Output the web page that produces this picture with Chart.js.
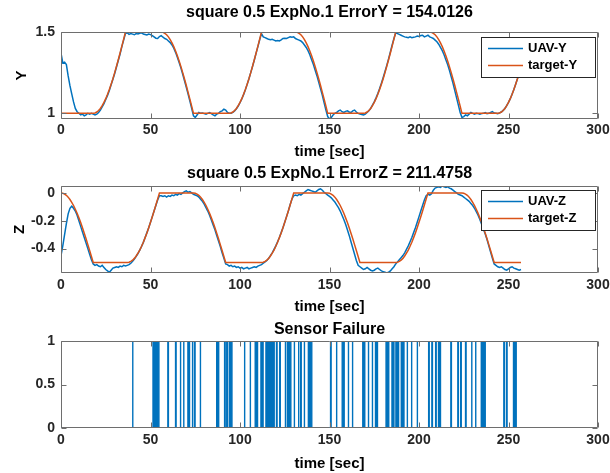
<!DOCTYPE html>
<html><head><meta charset="utf-8">
<script src="https://cdn.jsdelivr.net/npm/chart.js@4/dist/chart.umd.min.js"></script>
<style>
html,body{margin:0;padding:0;background:#fff;overflow:hidden;width:610px;height:473px}
.pane{position:absolute;left:0;width:610px}
</style></head><body>
<div class="pane" style="top:0;height:161px"><canvas id="c1" width="610" height="161"></canvas></div>
<div class="pane" style="top:161px;height:155px"><canvas id="c2" width="610" height="155"></canvas></div>
<div class="pane" style="top:316px;height:157px"><canvas id="c3" width="610" height="157"></canvas></div>
<script>
// ---------- data ----------
const time = [0,1,2,3,4,5,6,7,8,9,10,11,12,13,14,15,16,17,18,19,20,21,22,23,24,25,26,27,28,29,30,31,32,33,34,35,36,37,38,39,40,41,42,43,44,45,46,47,48,49,50,51,52,53,54,55,56,57,58,59,60,61,62,63,64,65,66,67,68,69,70,71,72,73,74,75,76,77,78,79,80,81,82,83,84,85,86,87,88,89,90,91,92,93,94,95,96,97,98,99,100,101,102,103,104,105,106,107,108,109,110,111,112,113,114,115,116,117,118,119,120,121,122,123,124,125,126,127,128,129,130,131,132,133,134,135,136,137,138,139,140,141,142,143,144,145,146,147,148,149,150,151,152,153,154,155,156,157,158,159,160,161,162,163,164,165,166,167,168,169,170,171,172,173,174,175,176,177,178,179,180,181,182,183,184,185,186,187,188,189,190,191,192,193,194,195,196,197,198,199,200,201,202,203,204,205,206,207,208,209,210,211,212,213,214,215,216,217,218,219,220,221,222,223,224,225,226,227,228,229,230,231,232,233,234,235,236,237,238,239,240,241,242,243,244,245,246,247,248,249,250,251,252,253,254,255,256,257];

const uavY = [1.37,1.31,1.315,1.30,1.23,1.17,1.12,1.07,1.03,1.01,
1.0,0.99,0.995,0.985,0.99,1.0,0.995,1.0,0.995,0.99,
0.995,1.005,1.02,1.04,1.06,1.085,1.11,1.14,1.175,1.21,
1.245,1.285,1.325,1.365,1.41,1.45,1.49,1.495,1.485,1.49,
1.487,1.483,1.49,1.488,1.492,1.495,1.488,1.485,1.482,1.487,
1.484,1.478,1.47,1.462,1.46,1.472,1.478,1.468,1.46,1.455,
1.445,1.435,1.42,1.40,1.375,1.345,1.312,1.278,1.24,1.2,
1.16,1.118,1.075,1.03,0.985,0.975,0.99,1.005,1.0,1.002,
0.998,0.995,1.0,1.005,0.998,0.99,0.985,0.995,1.0,1.01,
1.015,1.025,1.02,1.005,1.0,1.0,1.006,1.015,1.028,1.045,
1.065,1.088,1.115,1.145,1.178,1.212,1.25,1.288,1.328,1.37,
1.41,1.452,1.49,1.47,1.465,1.46,1.455,1.452,1.455,1.45,
1.445,1.448,1.445,1.452,1.46,1.462,1.46,1.465,1.47,1.468,
1.47,1.46,1.455,1.45,1.445,1.435,1.42,1.405,1.385,1.36,
1.33,1.3,1.265,1.23,1.19,1.15,1.11,1.065,1.02,0.98,
0.965,0.975,0.99,1.0,1.005,1.015,1.02,1.01,1.005,1.012,
1.015,1.008,1.005,1.015,1.02,1.008,1.0,0.995,0.992,0.99,
0.995,1.005,1.015,1.03,1.05,1.07,1.095,1.122,1.152,1.185,
1.22,1.257,1.295,1.335,1.377,1.42,1.46,1.495,1.49,1.485,
1.48,1.475,1.47,1.468,1.465,1.47,1.465,1.468,1.47,1.475,
1.472,1.478,1.48,1.47,1.475,1.48,1.47,1.465,1.46,1.45,
1.44,1.425,1.405,1.385,1.36,1.33,1.3,1.265,1.225,1.185,
1.14,1.095,1.05,1.005,0.975,0.98,0.99,0.985,0.995,1.005,
1.0,0.995,1.0,0.998,0.995,0.998,1.0,1.005,0.998,1.0,
1.005,1.01,1.002,1.0,0.998,1.003,1.008,1.018,1.03,1.047,
1.067,1.09,1.117,1.146,1.178,1.212,1.25,1.29];

const targetY = [1,1,1,1,1,1,1,1,1,1,1,1,1,1,1,1,1,1,1,
1.002,1.008,1.017,1.03,1.047,1.067,1.09,1.117,1.146,1.179,1.213,1.25,1.289,1.329,1.371,1.413,1.456,1.5,
1.5,1.5,1.5,1.5,1.5,1.5,1.5,1.5,1.5,1.5,1.5,1.5,1.5,1.5,1.5,1.5,1.5,1.5,1.5,1.5,
1.498,1.492,1.483,1.47,1.453,1.433,1.41,1.383,1.354,1.321,1.287,1.25,1.211,1.171,1.129,1.087,1.044,1,
1,1,1,1,1,1,1,1,1,1,1,1,1,1,1,1,1,1,1,1,
1.002,1.008,1.017,1.03,1.047,1.067,1.09,1.117,1.146,1.179,1.213,1.25,1.289,1.329,1.371,1.413,1.456,1.5,
1.5,1.5,1.5,1.5,1.5,1.5,1.5,1.5,1.5,1.5,1.5,1.5,1.5,1.5,1.5,1.5,1.5,1.5,1.5,
1.498,1.492,1.483,1.47,1.453,1.433,1.41,1.383,1.354,1.321,1.287,1.25,1.211,1.171,1.129,1.087,1.044,1,
1,1,1,1,1,1,1,1,1,1,1,1,1,1,1,1,1,1,1,1,
1.002,1.008,1.017,1.03,1.047,1.067,1.09,1.117,1.146,1.179,1.213,1.25,1.289,1.329,1.371,1.413,1.456,1.5,
1.5,1.5,1.5,1.5,1.5,1.5,1.5,1.5,1.5,1.5,1.5,1.5,1.5,1.5,1.5,1.5,1.5,1.5,1.5,
1.498,1.492,1.483,1.47,1.453,1.433,1.41,1.383,1.354,1.321,1.287,1.25,1.211,1.171,1.129,1.087,1.044,1,
1,1,1,1,1,1,1,1,1,1,1,1,1,1,1,1,1,1,1,1,
1.002,1.008,1.017,1.03,1.047,1.067,1.09,1.117,1.146,1.179,1.213,1.25,1.289];

const uavZ = [-0.45,-0.38,-0.30,-0.22,-0.15,-0.11,-0.095,-0.11,-0.13,-0.16,
-0.20,-0.24,-0.28,-0.32,-0.36,-0.40,-0.44,-0.48,-0.51,-0.52,
-0.515,-0.525,-0.53,-0.52,-0.535,-0.55,-0.56,-0.57,-0.555,-0.54,
-0.535,-0.53,-0.535,-0.525,-0.53,-0.52,-0.525,-0.52,-0.515,-0.505,
-0.49,-0.475,-0.455,-0.435,-0.41,-0.385,-0.355,-0.32,-0.285,-0.25,
-0.21,-0.17,-0.13,-0.09,-0.05,-0.02,-0.02,-0.025,-0.02,-0.03,
-0.02,-0.025,-0.015,-0.02,-0.01,-0.015,-0.005,-0.01,0.0,0.01,
0.015,0.005,0.01,0.0,-0.01,-0.015,-0.02,-0.03,-0.045,-0.06,
-0.08,-0.105,-0.13,-0.16,-0.195,-0.23,-0.265,-0.305,-0.345,-0.385,
-0.43,-0.47,-0.51,-0.515,-0.525,-0.52,-0.53,-0.525,-0.535,-0.53,
-0.54,-0.535,-0.545,-0.54,-0.535,-0.545,-0.54,-0.535,-0.53,-0.535,
-0.525,-0.52,-0.515,-0.505,-0.495,-0.485,-0.47,-0.45,-0.43,-0.405,
-0.38,-0.35,-0.32,-0.285,-0.25,-0.21,-0.17,-0.13,-0.085,-0.045,
-0.02,-0.015,-0.02,-0.01,-0.015,-0.005,0.005,0.015,0.025,0.02,
0.015,0.01,0.005,0.015,0.025,0.03,0.02,0.005,-0.005,-0.015,
-0.025,-0.035,-0.05,-0.065,-0.085,-0.105,-0.13,-0.16,-0.19,-0.225,
-0.265,-0.305,-0.35,-0.395,-0.44,-0.485,-0.52,-0.53,-0.54,-0.55,
-0.545,-0.535,-0.545,-0.555,-0.56,-0.555,-0.545,-0.54,-0.55,-0.56,
-0.565,-0.57,-0.575,-0.57,-0.56,-0.545,-0.53,-0.51,-0.495,-0.48,
-0.465,-0.45,-0.43,-0.405,-0.38,-0.35,-0.32,-0.285,-0.25,-0.21,
-0.17,-0.13,-0.09,-0.05,-0.02,-0.01,-0.015,-0.005,0.02,0.035,
0.04,0.045,0.04,0.05,0.045,0.04,0.045,0.035,0.03,0.02,
0.01,0.0,-0.01,-0.015,-0.02,-0.03,-0.04,-0.05,-0.06,-0.075,
-0.09,-0.11,-0.135,-0.16,-0.19,-0.225,-0.26,-0.295,-0.335,-0.38,
-0.425,-0.47,-0.51,-0.52,-0.53,-0.535,-0.53,-0.54,-0.55,-0.555,
-0.545,-0.535,-0.53,-0.54,-0.545,-0.55,-0.555,-0.55];

const targetZ = [0,-0.002,-0.008,-0.017,-0.03,-0.047,-0.067,-0.09,-0.117,-0.146,-0.179,-0.213,-0.25,-0.289,-0.329,-0.371,-0.413,-0.456,-0.5,
-0.5,-0.5,-0.5,-0.5,-0.5,-0.5,-0.5,-0.5,-0.5,-0.5,-0.5,-0.5,-0.5,-0.5,-0.5,-0.5,-0.5,-0.5,-0.5,
-0.498,-0.492,-0.483,-0.47,-0.453,-0.433,-0.41,-0.383,-0.354,-0.321,-0.287,-0.25,-0.211,-0.171,-0.129,-0.087,-0.044,0,
0,0,0,0,0,0,0,0,0,0,0,0,0,0,0,0,0,0,0,
-0.002,-0.008,-0.017,-0.03,-0.047,-0.067,-0.09,-0.117,-0.146,-0.179,-0.213,-0.25,-0.289,-0.329,-0.371,-0.413,-0.456,-0.5,
-0.5,-0.5,-0.5,-0.5,-0.5,-0.5,-0.5,-0.5,-0.5,-0.5,-0.5,-0.5,-0.5,-0.5,-0.5,-0.5,-0.5,-0.5,-0.5,-0.5,
-0.498,-0.492,-0.483,-0.47,-0.453,-0.433,-0.41,-0.383,-0.354,-0.321,-0.287,-0.25,-0.211,-0.171,-0.129,-0.087,-0.044,0,
0,0,0,0,0,0,0,0,0,0,0,0,0,0,0,0,0,0,0,
-0.002,-0.008,-0.017,-0.03,-0.047,-0.067,-0.09,-0.117,-0.146,-0.179,-0.213,-0.25,-0.289,-0.329,-0.371,-0.413,-0.456,-0.5,
-0.5,-0.5,-0.5,-0.5,-0.5,-0.5,-0.5,-0.5,-0.5,-0.5,-0.5,-0.5,-0.5,-0.5,-0.5,-0.5,-0.5,-0.5,-0.5,-0.5,
-0.498,-0.492,-0.483,-0.47,-0.453,-0.433,-0.41,-0.383,-0.354,-0.321,-0.287,-0.25,-0.211,-0.171,-0.129,-0.087,-0.044,0,
0,0,0,0,0,0,0,0,0,0,0,0,0,0,0,0,0,0,0,
-0.002,-0.008,-0.017,-0.03,-0.047,-0.067,-0.09,-0.117,-0.146,-0.179,-0.213,-0.25,-0.289,-0.329,-0.371,-0.413,-0.456,-0.5,
-0.5,-0.5,-0.5,-0.5,-0.5,-0.5,-0.5,-0.5,-0.5,-0.5,-0.5,-0.5,-0.5,-0.5,-0.5];

// sensor failure: intervals (seconds) where the failure flag is 1
const failStart = [39.9,51.4,59.7,64.0,66.6,68.4,70.9,73.3,74.6,77.7,87.0,91.4,92.6,94.0,102.4,105.6,108.5,111.7,112.6,114.5,120.4,122.2,125.2,126.5,130.2,132.6,133.9,135.8,138.2,150.6,153.8,157.1,160.4,162.7,168.6,171.6,173.8,175.7,181.6,184.9,187.1,190.1,193.3,195.7,198.9,205.4,207.2,209.3,210.9,217.8,221.7,223.3,226.0,229.3,231.5,234.8,247.4,248.9,252.8];
const failEnd   = [40.2,54.7,60.0,64.3,66.9,68.7,71.8,73.6,74.9,78.0,88.1,91.7,92.9,95.5,102.7,105.9,109.8,112.0,112.9,119.1,120.7,122.5,125.5,128.4,130.5,132.9,134.2,136.1,140.1,150.9,154.1,158.2,160.7,163.0,169.7,171.9,174.1,176.8,183.1,186.0,188.6,191.6,193.6,196.0,199.2,205.7,207.5,209.6,212.0,218.1,222.0,223.6,226.3,229.6,231.8,237.0,247.7,249.2,254.3];
const failRecordEnd = 257.5;

const xTicks = [0,50,100,150,200,250,300];
const yTicksY = [1,1.5];
const yTicksZ = [-0.4,-0.2,0];
const yTicksF = [0,0.5,1];
const rangeY = [0.965,1.5];
const rangeZ = [-0.575,0.05];
const rangeF = [0,1];

const titles = ['square 0.5 ExpNo.1 ErrorY = 154.0126','square 0.5 ExpNo.1 ErrorZ = 211.4758','Sensor Failure'];
const seriesNames = [['UAV-Y','target-Y'],['UAV-Z','target-Z']];

// ---------- style ----------
const FONT = "'Liberation Sans', Arial, Helvetica, sans-serif";
const BLUE = '#0072BD', ORANGE = '#D95319', AXIS = '#6e6e6e', TXT = '#262626';

const pairs = (xs, ys) => xs.map((x, i) => ({x, y: ys[i]}));
function failPoints() {
  const pts = [{x: time[0], y: 0}];
  failStart.forEach((s, i) => {
    pts.push({x: s, y: 0}, {x: s, y: 1}, {x: failEnd[i], y: 1}, {x: failEnd[i], y: 0});
  });
  pts.push({x: failRecordEnd, y: 0});
  return pts;
}

const boxPlugin = {
  id: 'mbox',
  afterDatasetsDraw(chart) {
    const {ctx, chartArea: a, scales: {x, y}} = chart;
    const L = Math.round(a.left) + 0.5, R = Math.round(a.right) - 0.5,
          T = Math.round(a.top) + 0.5, B = Math.round(a.bottom) - 0.5;
    ctx.save();
    ctx.strokeStyle = AXIS; ctx.lineWidth = 1;
    ctx.beginPath();
    ctx.moveTo(L, T); ctx.lineTo(R, T); ctx.lineTo(R, B); ctx.lineTo(L, B); ctx.closePath();
    const tl = 5;
    x.ticks.forEach(t => {
      const p = Math.round(x.getPixelForValue(t.value)) + 0.5;
      ctx.moveTo(p, B); ctx.lineTo(p, B - tl);
      ctx.moveTo(p, T); ctx.lineTo(p, T + tl);
    });
    y.ticks.forEach(t => {
      const p = Math.round(y.getPixelForValue(t.value)) + 0.5;
      ctx.moveTo(L, p); ctx.lineTo(L + tl, p);
      ctx.moveTo(R, p); ctx.lineTo(R - tl, p);
    });
    ctx.stroke();
    ctx.restore();
  }
};

const legendPlugin = {
  id: 'mlegend',
  afterDraw(chart, args, opts) {
    if (!opts || !opts.show) return;
    const {ctx, chartArea: a} = chart;
    const w = 115, h = 41;
    const right = Math.round(a.right) - 2, left = right - w, top = Math.round(a.top) + opts.dy;
    ctx.save();
    ctx.fillStyle = '#fff';
    ctx.fillRect(left, top, w, h);
    ctx.strokeStyle = '#262626'; ctx.lineWidth = 1;
    ctx.strokeRect(left + 0.5, top + 0.5, w - 1, h - 1);
    ctx.font = 'bold 13px ' + FONT;
    ctx.textBaseline = 'middle';
    ctx.fillStyle = '#000';
    chart.data.datasets.forEach((ds, i) => {
      const yy = top + 11.5 + i * 17;
      ctx.strokeStyle = ds.borderColor; ctx.lineWidth = 1.5;
      ctx.beginPath(); ctx.moveTo(left + 7, yy); ctx.lineTo(left + 42, yy); ctx.stroke();
      ctx.fillText(ds.label, left + 47, yy);
    });
    ctx.restore();
  }
};

function makeChart(id, cfg) {
  return new Chart(document.getElementById(id), {
    type: 'line',
    data: {datasets: cfg.datasets},
    plugins: [boxPlugin, legendPlugin],
    options: {
      responsive: false, animation: false, devicePixelRatio: 1, events: [],
      layout: {padding: {left: 0, right: 12, top: 0, bottom: 0}},
      elements: {point: {radius: 0}, line: {tension: 0, borderWidth: 1.5}},
      plugins: {
        legend: {display: false}, tooltip: {enabled: false},
        title: {display: true, text: cfg.title, fullSize: false, color: '#000',
                font: {family: FONT, size: 16, weight: 'bold'},
                padding: {top: cfg.tp, bottom: cfg.bp}},
        mlegend: {show: cfg.legend, dy: cfg.ldy}
      },
      scales: {
        x: {
          type: 'linear', min: 0, max: 300,
          grid: {display: false, drawTicks: false}, border: {display: false},
          afterBuildTicks: s => { s.ticks = xTicks.map(v => ({value: v})); },
          afterFit: s => { s.height = cfg.xh; s.paddingLeft = 0; s.paddingRight = 0; },
          ticks: {color: TXT, font: {family: FONT, size: 14, weight: 'bold'}, padding: cfg.xpad, maxRotation: 0, autoSkip: false},
          title: {display: true, text: 'time [sec]', color: '#000', font: {family: FONT, size: 15, weight: 'bold'}, padding: {top: 0, bottom: 0}}
        },
        y: {
          type: 'linear', min: cfg.range[0], max: cfg.range[1],
          grid: {display: false, drawTicks: false}, border: {display: false},
          afterBuildTicks: s => { s.ticks = cfg.yticks.map(v => ({value: v})); },
          afterFit: s => { s.width = 61; s.paddingTop = 0; s.paddingBottom = 0; },
          ticks: {color: TXT, font: {family: FONT, size: 14, weight: 'bold'}, padding: 6, autoSkip: false,
                  callback: v => String(v)},
          title: {display: !!cfg.ylabel, text: cfg.ylabel, color: '#000', font: {family: FONT, size: 15, weight: 'bold'}, padding: {top: cfg.ytp, bottom: 0}}
        }
      }
    }
  });
}

makeChart('c1', {
  title: titles[0], tp: 3, bp: 9.8, xh: 42, xpad: 3, range: rangeY, yticks: yTicksY, ylabel: 'Y', ytp: 13, legend: true, ldy: 5,
  datasets: [
    {label: seriesNames[0][0], data: pairs(time, uavY), borderColor: BLUE, order: 1},
    {label: seriesNames[0][1], data: pairs(time, targetY), borderColor: ORANGE, order: 0}
  ]
});
makeChart('c2', {
  title: titles[1], tp: 2.9, bp: 2.9, xh: 43, xpad: 4, range: rangeZ, yticks: yTicksZ, ylabel: 'Z', ytp: 11, legend: true, ldy: 4,
  datasets: [
    {label: seriesNames[1][0], data: pairs(time, uavZ), borderColor: BLUE, order: 1},
    {label: seriesNames[1][1], data: pairs(time, targetZ), borderColor: ORANGE, order: 0}
  ]
});
makeChart('c3', {
  title: titles[2], tp: 4.4, bp: 1.4, xh: 45, xpad: 4, range: rangeF, yticks: yTicksF, ylabel: '', ytp: 0, legend: false, ldy: 0,
  datasets: [
    {label: 'failure', data: failPoints(), borderColor: BLUE, backgroundColor: BLUE, fill: 'origin', borderWidth: 1.4}
  ]
});
</script>
</body></html>
